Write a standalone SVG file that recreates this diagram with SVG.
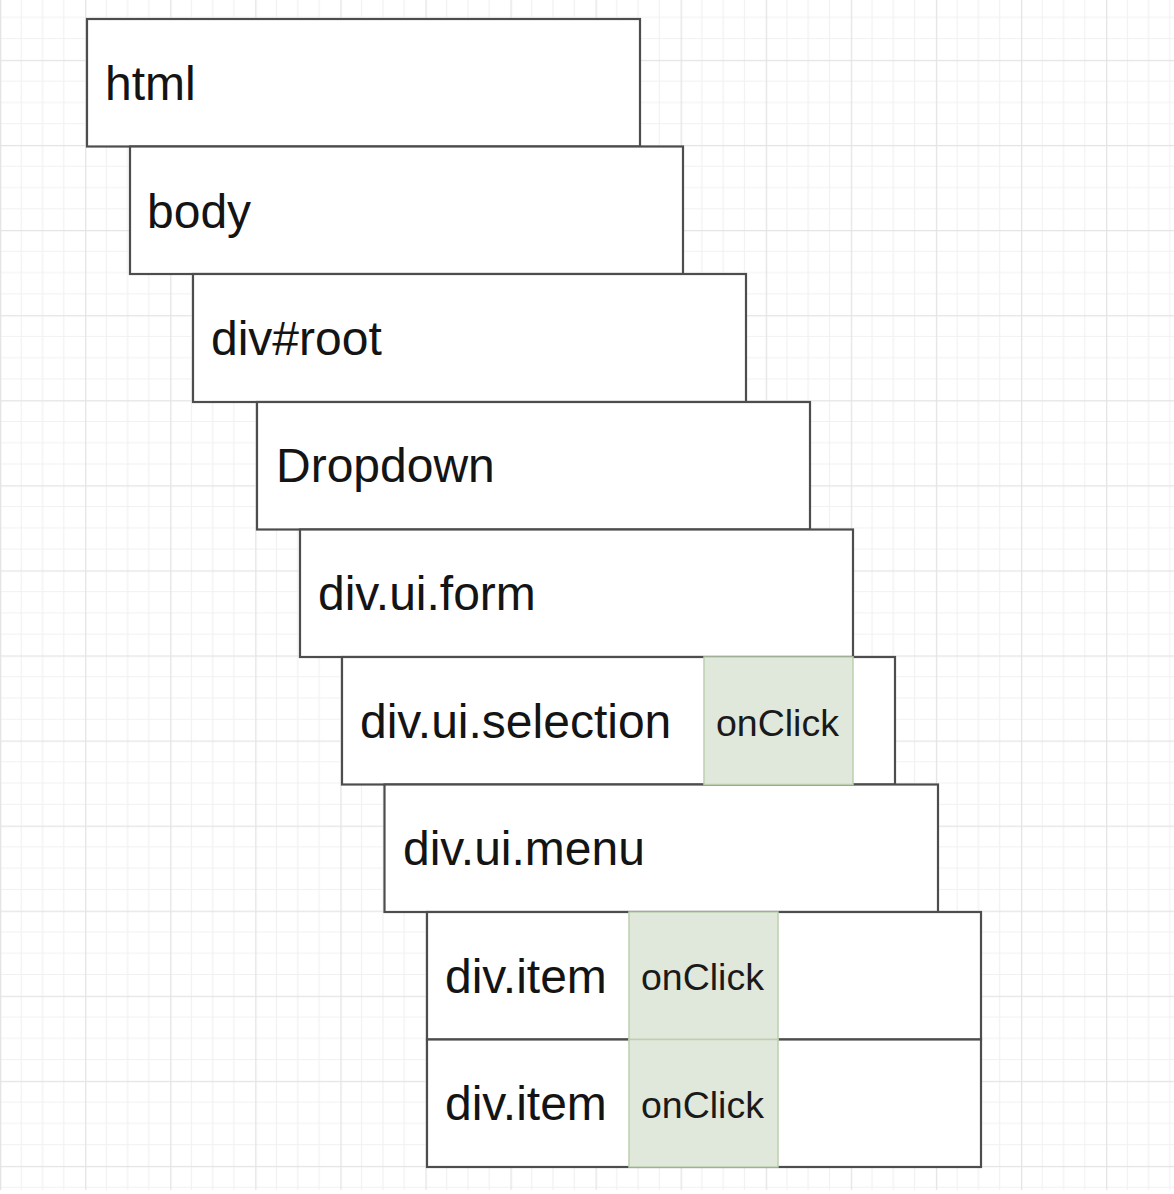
<svg xmlns="http://www.w3.org/2000/svg" width="1174" height="1194" viewBox="0 0 1174 1194">
  <defs>
    <pattern id="grid" patternUnits="userSpaceOnUse" x="0" y="-25.2" width="85.08" height="85.08">
      <path d="M21.27 0V85.08M42.54 0V85.08M63.81 0V85.08M0 21.27H85.08M0 42.54H85.08M0 63.81H85.08" stroke="#f1f1f1" stroke-width="1.2" fill="none"/>
      <path d="M0.6 0V85.08M0 0.6H85.08" stroke="#e4e4e4" stroke-width="1.4" fill="none"/>
    </pattern>
    <style>
      .box { fill: #ffffff; stroke: #4d4d4d; stroke-width: 2.2; }
      .hl { fill: #e0e8dc; stroke: #bccfaf; stroke-width: 1.5; }
      .lbl { font-family: "Liberation Sans", Arial, Helvetica, sans-serif; font-size: 48px; fill: #141414; }
      .ev { font-family: "Liberation Sans", Arial, Helvetica, sans-serif; font-size: 37.5px; fill: #1a1a1a; }
    </style>
  </defs>
  <rect x="0" y="0" width="1174" height="1194" fill="#ffffff"/>
  <rect x="0" y="0" width="1174" height="1190" fill="url(#grid)"/>

  <g id="html">
    <rect class="box" x="87" y="19" width="553" height="127.5"/>
    <text class="lbl" x="105" y="100">html</text>
  </g>
  <g id="body">
    <rect class="box" x="130" y="146.5" width="553" height="127.5"/>
    <text class="lbl" x="147" y="228">body</text>
  </g>
  <g id="div-root">
    <rect class="box" x="193" y="274" width="553" height="128"/>
    <text class="lbl" x="211" y="355">div#root</text>
  </g>
  <g id="dropdown">
    <rect class="box" x="257" y="402" width="553" height="127.5"/>
    <text class="lbl" x="276" y="482">Dropdown</text>
  </g>
  <g id="div-ui-form">
    <rect class="box" x="300" y="529.5" width="553" height="127.5"/>
    <text class="lbl" x="318" y="610">div.ui.form</text>
  </g>
  <g id="div-ui-selection">
    <rect class="box" x="342" y="657" width="553" height="127.5"/>
    <text class="lbl" x="360" y="738">div.ui.selection</text>
  </g>
  <g id="div-ui-menu">
    <rect class="box" x="384.5" y="784.5" width="553.5" height="127.5"/>
    <text class="lbl" x="403" y="865">div.ui.menu</text>
  </g>
  <g id="div-item-1">
    <rect class="box" x="427" y="912" width="554" height="127.5"/>
    <text class="lbl" x="445" y="993">div.item</text>
  </g>
  <g id="div-item-2">
    <rect class="box" x="427" y="1039.5" width="554" height="127.5"/>
    <text class="lbl" x="445" y="1120">div.item</text>
  </g>

  <g id="selection-onclick">
    <rect class="hl" x="704" y="657" width="149" height="127.5"/>
    <text class="ev" x="716" y="736">onClick</text>
  </g>
  <g id="item-1-onclick">
    <rect class="hl" x="629" y="912" width="149" height="127.5"/>
    <text class="ev" x="641" y="990">onClick</text>
  </g>
  <g id="item-2-onclick">
    <rect class="hl" x="629" y="1039.5" width="149" height="127.5"/>
    <text class="ev" x="641" y="1118">onClick</text>
  </g>
</svg>
